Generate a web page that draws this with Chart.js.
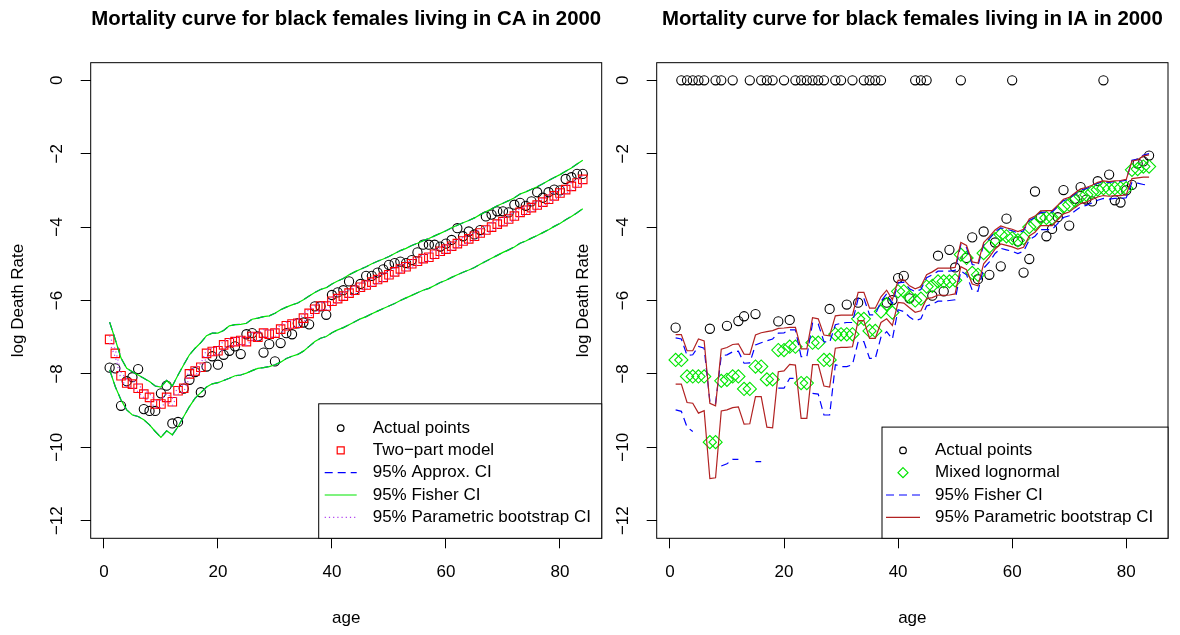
<!DOCTYPE html>
<html>
<head>
<meta charset="utf-8">
<script src="https://cdn.jsdelivr.net/npm/chart.js@4/dist/chart.umd.min.js"></script>
<style>
  body { margin: 0; background: #fff; width: 1180px; height: 635px; position: relative; overflow: hidden; }
  .panel { position: absolute; top: 0; height: 635px; }
  #wrapCA { left: 0; width: 610px; }
  #wrapIA { left: 560px; width: 620px; }
</style>
</head>
<body>
<div class="panel" id="wrapCA"><canvas id="chartCA" width="610" height="635"></canvas></div>
<div class="panel" id="wrapIA"><canvas id="chartIA" width="620" height="635"></canvas></div>
<script>
// ---- data ----
const ages = [1,2,3,4,5,6,7,8,9,10,11,12,13,14,15,16,17,18,19,20,
  21,22,23,24,25,26,27,28,29,30,31,32,33,34,35,36,37,38,39,40,
  41,42,43,44,45,46,47,48,49,50,51,52,53,54,55,56,57,58,59,60,
  61,62,63,64,65,66,67,68,69,70,71,72,73,74,75,76,77,78,79,80,
  81,82,83,84];
const xTicks = [0, 20, 40, 60, 80];
const yTicks = [-12, -10, -8, -6, -4, -2, 0];
const xRange = [-2.32, 87.32];
const yRange = [-12.48, 0.48];

// California
const actualCA = [-7.83,-7.85,-8.87,-8.20,-8.09,-7.87,-8.96,-9.01,-9.01,-8.53,
  -8.32,-9.35,-9.31,-8.40,-8.16,-7.95,-8.50,-7.80,-7.52,-7.75,
  -7.48,-7.37,-7.25,-7.46,-6.92,-6.89,-6.98,-7.42,-7.19,-7.66,
  -7.16,-6.89,-6.92,-6.62,-6.60,-6.65,-6.16,-6.16,-6.39,-5.85,
  -5.78,-5.72,-5.48,-5.71,-5.55,-5.33,-5.33,-5.24,-5.15,-5.03,
  -4.98,-4.94,-4.98,-4.90,-4.69,-4.48,-4.48,-4.48,-4.53,-4.45,
  -4.35,-4.03,-4.25,-4.12,-4.20,-4.08,-3.71,-3.66,-3.57,-3.57,
  -3.60,-3.39,-3.34,-3.42,-3.30,-3.05,-3.20,-3.05,-2.98,-3.00,
  -2.69,-2.64,-2.55,-2.55];
const modelCA = [-7.06,-7.44,-8.05,-8.25,-8.28,-8.39,-8.55,-8.64,-8.82,-8.82,
  -8.64,-8.76,-8.46,-8.39,-8.00,-7.92,-7.82,-7.44,-7.39,-7.37,
  -7.21,-7.15,-7.12,-7.09,-7.12,-6.98,-7.00,-6.89,-6.92,-6.89,
  -6.78,-6.69,-6.64,-6.62,-6.48,-6.35,-6.24,-6.15,-6.15,-6.02,
  -5.95,-5.88,-5.80,-5.72,-5.64,-5.58,-5.50,-5.43,-5.37,-5.30,
  -5.22,-5.14,-5.08,-5.00,-4.93,-4.86,-4.82,-4.74,-4.66,-4.60,
  -4.52,-4.45,-4.38,-4.32,-4.25,-4.16,-4.08,-4.00,-3.92,-3.85,
  -3.78,-3.70,-3.60,-3.54,-3.47,-3.40,-3.32,-3.24,-3.15,-3.07,
  -2.98,-2.89,-2.80,-2.70];
const fisherUpperCA = [-6.59,-7.07,-7.57,-7.85,-7.94,-8.03,-8.12,-8.21,-8.33,-8.36,
  -8.18,-8.33,-8.03,-7.75,-7.48,-7.30,-7.15,-6.96,-6.89,-6.89,
  -6.82,-6.69,-6.66,-6.65,-6.62,-6.51,-6.48,-6.44,-6.42,-6.35,
  -6.25,-6.18,-6.12,-6.07,-5.98,-5.88,-5.78,-5.70,-5.65,-5.55,
  -5.47,-5.40,-5.30,-5.22,-5.15,-5.08,-5.00,-4.93,-4.87,-4.80,
  -4.72,-4.64,-4.58,-4.50,-4.44,-4.37,-4.31,-4.24,-4.17,-4.10,
  -4.02,-3.95,-3.88,-3.82,-3.75,-3.66,-3.58,-3.50,-3.42,-3.35,
  -3.28,-3.20,-3.10,-3.04,-2.97,-2.90,-2.82,-2.73,-2.65,-2.57,
  -2.48,-2.39,-2.28,-2.18];
const fisherLowerCA = [-7.89,-8.35,-8.71,-8.98,-9.12,-9.16,-9.25,-9.39,-9.57,-9.73,
  -9.55,-9.66,-9.44,-9.16,-8.89,-8.66,-8.51,-8.36,-8.27,-8.24,
  -8.18,-8.12,-8.05,-8.03,-7.98,-7.91,-7.85,-7.83,-7.80,-7.75,
  -7.68,-7.58,-7.52,-7.47,-7.38,-7.25,-7.12,-7.03,-6.98,-6.88,
  -6.80,-6.74,-6.66,-6.58,-6.50,-6.44,-6.36,-6.29,-6.22,-6.15,
  -6.08,-6.00,-5.93,-5.86,-5.79,-5.72,-5.67,-5.59,-5.51,-5.45,
  -5.37,-5.30,-5.23,-5.17,-5.10,-5.01,-4.93,-4.85,-4.77,-4.69,
  -4.62,-4.54,-4.44,-4.38,-4.30,-4.23,-4.15,-4.07,-3.98,-3.90,
  -3.80,-3.71,-3.61,-3.50];
// the approximate CI sits right under the Fisher CI in the picture
const approxUpperCA = fisherUpperCA;
const approxLowerCA = fisherLowerCA;
const bootUpperCA = [-6.96,-7.34,-7.95,-8.15,-8.18,-8.29,-8.45,-8.54,-8.72,-8.72,
  -8.54,-8.66,-8.36,-8.29,-7.90,-7.82,-7.72,-7.34,-7.29,-7.27,
  -7.11,-7.05,-7.02,-6.99,-7.02,-6.88,-6.90,-6.79,-6.82,-6.79,
  -6.68,-6.59,-6.54,-6.52,-6.38,-6.25,-6.14,-6.05,-6.05,-5.92,
  -5.85,-5.78,-5.70,-5.62,-5.54,-5.48,-5.40,-5.33,-5.27,-5.20,
  -5.12,-5.04,-4.98,-4.90,-4.83,-4.76,-4.72,-4.64,-4.56,-4.50,
  -4.42,-4.35,-4.28,-4.22,-4.15,-4.06,-3.98,-3.90,-3.82,-3.75,
  -3.68,-3.60,-3.50,-3.44,-3.37,-3.30,-3.22,-3.14,-3.05,-2.97,
  -2.88,-2.79,-2.70,-2.60];
const bootLowerCA = [-7.16,-7.54,-8.15,-8.35,-8.38,-8.49,-8.65,-8.74,-8.92,-8.92,
  -8.74,-8.86,-8.56,-8.49,-8.10,-8.02,-7.92,-7.54,-7.49,-7.47,
  -7.31,-7.25,-7.22,-7.19,-7.22,-7.08,-7.10,-6.99,-7.02,-6.99,
  -6.88,-6.79,-6.74,-6.72,-6.58,-6.45,-6.34,-6.25,-6.25,-6.12,
  -6.05,-5.98,-5.90,-5.82,-5.74,-5.68,-5.60,-5.53,-5.47,-5.40,
  -5.32,-5.24,-5.18,-5.10,-5.03,-4.96,-4.92,-4.84,-4.76,-4.70,
  -4.62,-4.55,-4.48,-4.42,-4.35,-4.26,-4.18,-4.10,-4.02,-3.95,
  -3.88,-3.80,-3.70,-3.64,-3.57,-3.50,-3.42,-3.34,-3.25,-3.17,
  -3.08,-2.99,-2.90,-2.80];

// Iowa (0 = no deaths recorded)
const actualIA = [-6.74,0,0,0,0,0,-6.77,0,0,-6.69,
  0,-6.56,-6.43,0,-6.37,0,0,0,-6.57,0,
  -6.53,0,0,0,0,0,0,-6.23,0,0,
  -6.11,0,-6.06,0,0,0,0,-6.06,-5.99,-5.39,
  -5.33,-5.94,0,0,0,-5.87,-4.78,-5.75,-4.62,-5.10,
  0,-4.84,-4.28,-5.42,-4.12,-5.30,-4.42,-5.07,-3.77,0,
  -4.39,-5.24,-4.87,-3.03,-3.74,-4.25,-4.05,-3.73,-2.99,-3.96,
  -3.23,-2.91,-3.25,-3.30,-2.75,0,-2.57,-3.27,-3.33,-3.00,
  -2.85,-2.27,-2.21,-2.05];
const lognormIA = [-7.62,-7.62,-8.07,-8.07,-8.07,-8.07,-9.86,-9.86,-8.19,-8.16,
  -8.07,-8.07,-8.41,-8.41,-7.80,-7.80,-8.15,-8.15,-7.35,-7.35,
  -7.26,-7.26,-8.25,-8.25,-7.15,-7.15,-7.62,-7.62,-6.92,-6.92,
  -6.92,-6.92,-6.50,-6.50,-6.83,-6.83,-6.30,-6.10,-6.33,-5.75,
  -5.75,-5.90,-6.00,-5.95,-5.62,-5.60,-5.48,-5.48,-5.48,-5.45,
  -4.75,-4.84,-5.25,-5.30,-4.71,-4.53,-4.33,-4.21,-4.25,-4.30,
  -4.36,-4.30,-4.00,-3.91,-3.75,-3.75,-3.75,-3.60,-3.44,-3.39,
  -3.27,-3.16,-3.12,-3.05,-2.98,-2.94,-2.96,-2.94,-2.94,-2.94,
  -2.44,-2.42,-2.35,-2.35];
const fisherUpperIA = [-7.02,-7.05,-7.50,-7.48,-7.25,-7.30,-8.75,-8.80,-7.51,-7.48,
  -7.40,-7.38,-7.71,-7.70,-7.21,-7.15,-7.10,-7.05,-6.89,-6.88,
  -6.80,-6.80,-7.53,-7.53,-6.62,-6.64,-7.12,-7.14,-6.66,-6.62,
  -6.60,-6.60,-5.94,-5.94,-6.39,-6.39,-6.02,-5.82,-6.08,-5.52,
  -5.50,-5.68,-5.76,-5.70,-5.38,-5.30,-5.20,-5.20,-5.20,-5.18,
  -4.48,-4.56,-5.02,-5.05,-4.48,-4.32,-4.13,-4.02,-4.06,-4.10,
  -4.16,-4.10,-3.82,-3.74,-3.60,-3.59,-3.59,-3.44,-3.28,-3.22,
  -3.10,-2.99,-2.95,-2.88,-2.80,-2.77,-2.78,-2.76,-2.75,-2.72,
  -2.18,-2.15,-2.04,-2.00];
const fisherLowerIA = [-8.98,-9.02,-9.45,-9.57,null,null,null,null,-10.51,-10.45,
  -10.33,-10.33,null,null,-10.39,-10.39,null,null,-8.39,-8.39,
  -8.12,-8.12,null,null,-8.53,-8.55,-9.12,-9.12,-7.75,-7.80,
  -7.80,-7.75,-7.12,-7.12,-7.58,-7.58,-7.00,-6.85,-7.05,-6.25,
  -6.30,-6.45,-6.55,-6.50,-6.15,-6.10,-6.02,-6.02,-6.00,-5.98,
  -5.20,-5.30,-5.72,-5.75,-5.12,-4.95,-4.72,-4.58,-4.62,-4.66,
  -4.72,-4.66,-4.35,-4.25,-4.07,-4.07,-4.07,-3.90,-3.74,-3.69,
  -3.56,-3.45,-3.41,-3.34,-3.27,-3.22,-3.24,-3.22,-3.22,-3.20,
  -2.78,-2.80,-2.84,-2.86];
const bootUpperIA = [-6.93,-6.93,-7.37,-7.37,-7.05,-7.10,-8.80,-8.87,-7.33,-7.28,
  -7.20,-7.18,-7.46,-7.47,-6.94,-6.88,-6.85,-6.82,-6.76,-6.75,
  -6.73,-6.73,-7.32,-7.32,-6.47,-6.50,-6.94,-6.96,-6.42,-6.40,
  -6.40,-6.40,-5.78,-5.78,-6.21,-6.21,-5.90,-5.72,-5.98,-5.45,
  -5.44,-5.60,-5.68,-5.62,-5.30,-5.22,-5.12,-5.12,-5.12,-5.10,
  -4.42,-4.50,-4.95,-4.98,-4.42,-4.26,-4.08,-3.97,-4.02,-4.06,
  -4.12,-4.06,-3.78,-3.70,-3.56,-3.55,-3.55,-3.40,-3.24,-3.19,
  -3.07,-2.96,-2.92,-2.86,-2.78,-2.74,-2.76,-2.74,-2.73,-2.70,
  -2.20,-2.17,-2.06,-2.03];
const bootLowerIA = [-8.28,-8.28,-8.78,-8.80,-9.07,-9.00,-10.85,-10.83,-9.01,-8.98,
  -8.92,-8.90,-9.37,-9.36,-8.62,-8.62,-9.45,-9.47,-7.94,-7.92,
  -7.74,-7.76,-9.21,-9.21,-7.75,-7.75,-8.33,-8.36,-7.30,-7.28,
  -7.28,-7.26,-6.55,-6.55,-7.03,-7.03,-6.60,-6.50,-6.68,-6.05,
  -6.07,-6.20,-6.32,-6.28,-5.95,-5.92,-5.85,-5.86,-5.85,-5.82,
  -5.08,-5.16,-5.55,-5.60,-5.00,-4.82,-4.60,-4.46,-4.50,-4.54,
  -4.60,-4.55,-4.24,-4.14,-3.96,-3.96,-3.96,-3.80,-3.64,-3.59,
  -3.47,-3.36,-3.32,-3.25,-3.18,-3.14,-3.16,-3.14,-3.14,-3.12,
  -2.68,-2.66,-2.64,-2.64];

// ---- styling ----
const FONT = '"Liberation Sans", Arial, Helvetica, sans-serif';
const GREEN = '#00e600', BLUE = '#0000ff', PURPLE = '#b040f0', DARKRED = '#b22222';
Chart.defaults.font.family = FONT;
Chart.defaults.font.size = 17;
Chart.defaults.color = '#000';

function pts(values) {
  return ages.map((a, i) => ({ x: a, y: values[i] }));
}

function pointSet(label, values, style, radius, color) {
  return { label, data: pts(values), pointStyle: style, pointRadius: radius,
    pointBorderColor: color, pointBackgroundColor: 'rgba(0,0,0,0)', pointBorderWidth: 1.1,
    showLine: false };
}

function lineSet(label, values, color, dash) {
  return { label, data: pts(values), showLine: true, pointRadius: 0, borderColor: color,
    borderWidth: 1.2, borderDash: dash, spanGaps: false, fill: false };
}

function fmt(v) {
  return v < 0 ? '\u2212' + Math.abs(v) : String(v);
}

// R-ish frame: box round the plot, rotated y labels, boxed legend bottom right
const rFrame = {
  id: 'rframe',
  afterDraw(chart, args, opts) {
    const ctx = chart.ctx, a = chart.chartArea;
    ctx.save();
    ctx.strokeStyle = '#000';
    ctx.lineWidth = 1;
    ctx.strokeRect(a.left, a.top, a.right - a.left, a.bottom - a.top);

    const ys = chart.scales.y;
    ctx.fillStyle = '#000';
    ctx.font = '17px ' + FONT;
    ctx.textAlign = 'center';
    ctx.textBaseline = 'middle';
    ys.ticks.forEach(t => {
      ctx.save();
      ctx.translate(a.left - opts.yLabelOffset, ys.getPixelForValue(t.value));
      ctx.rotate(-Math.PI / 2);
      ctx.fillText(fmt(t.value), 0, 0);
      ctx.restore();
    });

    const L = opts.legend;
    const h = L.top + L.gap * (L.items.length - 1) + L.bottom;
    const x0 = a.right - L.width, y0 = a.bottom - h;
    ctx.fillStyle = '#fff';
    ctx.fillRect(x0, y0, L.width, h);
    ctx.strokeStyle = '#000';
    ctx.strokeRect(x0, y0, L.width, h);
    L.items.forEach((it, i) => {
      const y = y0 + L.top + i * L.gap;
      const cx = x0 + L.symX;
      ctx.strokeStyle = it.color;
      ctx.lineWidth = 1.2;
      ctx.setLineDash(it.dash || []);
      ctx.beginPath();
      if (it.shape === 'line') {
        ctx.moveTo(x0 + L.lineFrom, y);
        ctx.lineTo(x0 + L.lineTo, y);
      } else if (it.shape === 'circle') {
        ctx.arc(cx, y, it.r, 0, Math.PI * 2);
      } else if (it.shape === 'rect') {
        ctx.rect(cx - it.r, y - it.r, it.r * 2, it.r * 2);
      } else if (it.shape === 'diamond') {
        ctx.moveTo(cx, y - it.r); ctx.lineTo(cx + it.r, y);
        ctx.lineTo(cx, y + it.r); ctx.lineTo(cx - it.r, y); ctx.closePath();
      }
      ctx.stroke();
      ctx.setLineDash([]);
      ctx.fillStyle = '#000';
      ctx.textAlign = 'left';
      ctx.fillText(it.label, x0 + L.textX, y);
    });
    ctx.restore();
  }
};

function rScales(yWidth, yTitleTop) {
  return {
    x: {
      type: 'linear', min: xRange[0], max: xRange[1],
      afterBuildTicks: s => { s.ticks = xTicks.map(v => ({ value: v })); },
      afterFit: s => { s.height = 96.7; },
      grid: { drawOnChartArea: false, tickLength: 10, color: '#000', lineWidth: 1 },
      border: { display: false },
      ticks: { padding: 14, maxRotation: 0, autoSkip: false, color: '#000' },
      title: { display: true, text: 'age', color: '#000', padding: { top: 0, bottom: 6.8 } }
    },
    y: {
      type: 'linear', min: yRange[0], max: yRange[1],
      afterBuildTicks: s => { s.ticks = yTicks.map(v => ({ value: v })); },
      afterFit: s => { s.width = yWidth; },
      grid: { drawOnChartArea: false, tickLength: 10, color: '#000', lineWidth: 1 },
      border: { display: false },
      ticks: { display: false },
      title: { display: true, text: 'log Death Rate', color: '#000', padding: { top: yTitleTop, bottom: 0 } }
    }
  };
}

function rTitle(text) {
  return { display: true, text, fullSize: false, color: '#000',
    font: { size: 20.4, weight: 'bold' }, padding: { top: 7, bottom: 31.2 } };
}

// ---- left panel: California ----
new Chart(document.getElementById('chartCA'), {
  type: 'scatter',
  data: {
    datasets: [
      lineSet('boot upper', bootUpperCA, PURPLE, [1.2, 3]),
      lineSet('boot lower', bootLowerCA, PURPLE, [1.2, 3]),
      lineSet('fisher upper', fisherUpperCA, GREEN, []),
      lineSet('fisher lower', fisherLowerCA, GREEN, []),
      lineSet('approx upper', approxUpperCA, BLUE, [8, 5]),
      lineSet('approx lower', approxLowerCA, BLUE, [8, 5]),
      pointSet('Two-part model', modelCA, 'rect', 6, '#ff0000'),
      pointSet('Actual points', actualCA, 'circle', 4.6, '#000')
    ]
  },
  options: {
    responsive: false, animation: false, events: [],
    layout: { padding: { left: 0, top: 0, right: 8.3, bottom: 0 } },
    scales: rScales(90.7, 8),
    plugins: {
      legend: { display: false },
      tooltip: { enabled: false },
      title: rTitle('Mortality curve for black females living in CA in 2000'),
      rframe: {
        yLabelOffset: 33.5,
        legend: {
          width: 283, top: 24.3, gap: 22.3, bottom: 21, symX: 22, textX: 54, lineFrom: 6, lineTo: 38,
          items: [
            { label: 'Actual points', shape: 'circle', r: 3.3, color: '#000' },
            { label: 'Two\u2212part model', shape: 'rect', r: 3.5, color: '#ff0000' },
            { label: '95% Approx. CI', shape: 'line', color: BLUE, dash: [8, 5] },
            { label: '95% Fisher CI', shape: 'line', color: GREEN },
            { label: '95% Parametric bootstrap CI', shape: 'line', color: PURPLE, dash: [1.2, 3] }
          ]
        }
      }
    }
  },
  plugins: [rFrame]
});

// ---- right panel: Iowa ----
new Chart(document.getElementById('chartIA'), {
  type: 'scatter',
  data: {
    datasets: [
      lineSet('boot upper', bootUpperIA, DARKRED, []),
      lineSet('boot lower', bootLowerIA, DARKRED, []),
      lineSet('fisher upper', fisherUpperIA, BLUE, [8, 5]),
      lineSet('fisher lower', fisherLowerIA, BLUE, [8, 5]),
      pointSet('Mixed lognormal', lognormIA, 'rectRot', 6.6, GREEN),
      pointSet('Actual points', actualIA, 'circle', 4.6, '#000')
    ]
  },
  options: {
    responsive: false, animation: false, events: [],
    layout: { padding: { left: 0, top: 0, right: 12, bottom: 0 } },
    scales: rScales(96.7, 12.8),
    plugins: {
      legend: { display: false },
      tooltip: { enabled: false },
      title: rTitle('Mortality curve for black females living in IA in 2000'),
      rframe: {
        yLabelOffset: 33,
        legend: {
          width: 286, top: 23.3, gap: 22.3, bottom: 21, symX: 21, textX: 53, lineFrom: 4, lineTo: 38,
          items: [
            { label: 'Actual points', shape: 'circle', r: 3.3, color: '#000' },
            { label: 'Mixed lognormal', shape: 'diamond', r: 5, color: GREEN },
            { label: '95% Fisher CI', shape: 'line', color: BLUE, dash: [8, 5] },
            { label: '95% Parametric bootstrap CI', shape: 'line', color: DARKRED }
          ]
        }
      }
    }
  },
  plugins: [rFrame]
});
</script>
</body>
</html>
